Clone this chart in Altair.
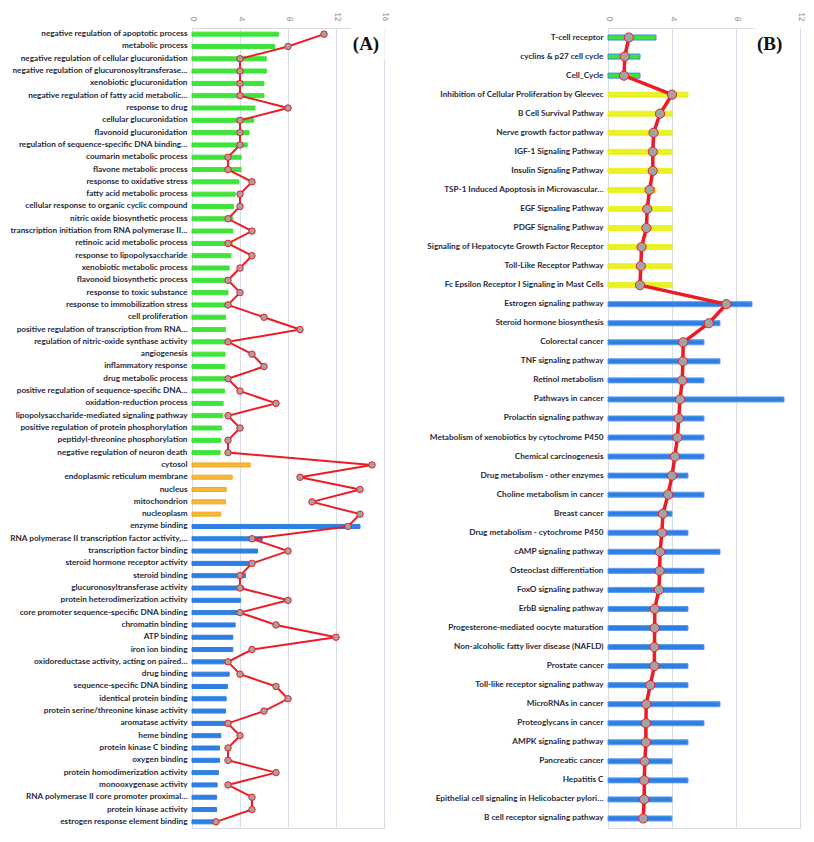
import altair as alt
import pandas as pd

# ---------------- Panel A data ----------------
a_terms = [
    "negative regulation of apoptotic process", "metabolic process",
    "negative regulation of cellular glucuronidation", "negative regulation of glucuronosyltransferase…",
    "xenobiotic glucuronidation", "negative regulation of fatty acid metabolic…",
    "response to drug", "cellular glucuronidation", "flavonoid glucuronidation",
    "regulation of sequence-specific DNA binding…", "coumarin metabolic process",
    "flavone metabolic process", "response to oxidative stress", "fatty acid metabolic process",
    "cellular response to organic cyclic compound", "nitric oxide biosynthetic process",
    "transcription initiation from RNA polymerase II…", "retinoic acid metabolic process",
    "response to lipopolysaccharide", "xenobiotic metabolic process", "flavonoid biosynthetic process",
    "response to toxic substance", "response to immobilization stress", "cell proliferation",
    "positive regulation of transcription from RNA…", "regulation of nitric-oxide synthase activity",
    "angiogenesis", "inflammatory response", "drug metabolic process",
    "positive regulation of sequence-specific DNA…", "oxidation-reduction process",
    "lipopolysaccharide-mediated signaling pathway", "positive regulation of protein phosphorylation",
    "peptidyl-threonine phosphorylation", "negative regulation of neuron death",
    "cytosol", "endoplasmic reticulum membrane", "nucleus", "mitochondrion", "nucleoplasm",
    "enzyme binding", "RNA polymerase II transcription factor activity,…", "transcription factor binding",
    "steroid hormone receptor activity", "steroid binding", "glucuronosyltransferase activity",
    "protein heterodimerization activity", "core promoter sequence-specific DNA binding",
    "chromatin binding", "ATP binding", "iron ion binding", "oxidoreductase activity, acting on paired…",
    "drug binding", "sequence-specific DNA binding", "identical protein binding",
    "protein serine/threonine kinase activity", "aromatase activity", "heme binding",
    "protein kinase C binding", "oxygen binding", "protein homodimerization activity",
    "monooxygenase activity", "RNA polymerase II core promoter proximal…", "protein kinase activity",
    "estrogen response element binding",
]
a_bar = [7.2, 6.9, 6.2, 6.2, 6.0, 6.0, 5.25, 5.15, 4.75, 4.6, 4.1, 4.1, 3.9, 3.6, 3.45, 3.4,
         3.4, 3.35, 3.25, 3.1, 3.05, 3.0, 2.9, 2.8, 2.8, 2.75, 2.75, 2.75, 2.75, 2.7, 2.6, 2.55,
         2.45, 2.4, 2.35,
         4.85, 3.35, 2.85, 2.8, 2.4,
         14.0, 5.85, 5.45, 5.1, 4.45, 4.3, 4.05, 3.95, 3.6, 3.4, 3.4, 3.15, 3.1, 2.95, 2.85,
         2.8, 2.75, 2.4, 2.3, 2.3, 2.2, 2.1, 2.05, 2.05, 2.0]
a_line = [11, 8, 4, 4, 4, 4, 8, 4, 4, 4, 3, 3, 5, 4, 4, 3, 5, 3, 5, 4, 3, 4, 3, 6, 9, 3, 5, 6,
          3, 4, 7, 3, 4, 3, 3,
          15, 9, 14, 10, 14,
          13, 5, 8, 5, 4, 4, 8, 4, 7, 12, 5, 3, 4, 7, 8, 6, 3, 4, 3, 3, 7, 3, 5, 5, 2]
a_group = ["Biological process"] * 35 + ["Cellular component"] * 5 + ["Molecular function"] * 25

# ---------------- Panel B data ----------------
b_terms = [
    "T-cell receptor", "cyclins & p27 cell cycle", "Cell_Cycle",
    "Inhibition of Cellular Proliferation by Gleevec", "B Cell Survival Pathway",
    "Nerve growth factor pathway", "IGF-1 Signaling Pathway", "Insulin Signaling Pathway",
    "TSP-1 Induced Apoptosis in Microvascular…", "EGF Signaling Pathway", "PDGF Signaling Pathway",
    "Signaling of Hepatocyte Growth Factor Receptor", "Toll-Like Receptor Pathway",
    "Fc Epsilon Receptor I Signaling in Mast Cells", "Estrogen signaling pathway",
    "Steroid hormone biosynthesis", "Colorectal cancer", "TNF signaling pathway",
    "Retinol metabolism", "Pathways in cancer", "Prolactin signaling pathway",
    "Metabolism of xenobiotics by cytochrome P450", "Chemical carcinogenesis",
    "Drug metabolism - other enzymes", "Choline metabolism in cancer", "Breast cancer",
    "Drug metabolism - cytochrome P450", "cAMP signaling pathway", "Osteoclast differentiation",
    "FoxO signaling pathway", "ErbB signaling pathway", "Progesterone-mediated oocyte maturation",
    "Non-alcoholic fatty liver disease (NAFLD)", "Prostate cancer",
    "Toll-like receptor signaling pathway", "MicroRNAs in cancer", "Proteoglycans in cancer",
    "AMPK signaling pathway", "Pancreatic cancer", "Hepatitis C",
    "Epithelial cell signaling in Helicobacter pylori…", "B cell receptor signaling pathway",
]
b_bar = [3, 2, 2, 5, 4, 4, 4, 4, 3, 4, 4, 4, 4, 4,
         9, 7, 6, 7, 6, 11, 6, 6, 6, 5, 6, 4, 5, 7, 6, 6, 5, 5, 6, 5, 5, 7, 6, 5, 4, 5, 4, 4]
b_line = [1.3, 1.05, 1.0, 4.0, 3.25, 2.85, 2.8, 2.8, 2.6, 2.45, 2.4, 2.1, 2.05, 2.0,
          7.4, 6.3, 4.7, 4.68, 4.64, 4.5, 4.42, 4.34, 4.18, 4.0, 3.76, 3.43, 3.37, 3.25,
          3.23, 3.18, 2.92, 2.92, 2.9, 2.9, 2.64, 2.39, 2.37, 2.37, 2.3, 2.27, 2.26, 2.2]
b_group = ["Cell cycle"] * 3 + ["BioCarta"] * 11 + ["KEGG"] * 28

dfa = pd.DataFrame({"term": a_terms, "bar": a_bar, "line": a_line, "grp": a_group,
                    "idx": list(range(len(a_terms)))})
dfb = pd.DataFrame({"term": b_terms, "bar": b_bar, "line": b_line, "grp": b_group,
                    "idx": list(range(len(b_terms)))})

LABEL_FONT = "Lato"
RED = "#ec1c24"
GRID = "#d5dde8"
H = 800


def panel(df, xmax, width, bar_size, fill_dom, fill_rng, stroke_rng, line_w, pt_size, tag,
          tag_x, box_x1, box_x2):
    y = alt.Y("term:N", sort=list(df["term"]), title=None,
              scale=alt.Scale(paddingInner=0, paddingOuter=0),
              axis=alt.Axis(labelFont=LABEL_FONT, labelFontWeight="bold", labelFontSize=8.2,
                            labelColor="#1f2b3a", labelPadding=5, ticks=False, domain=False,
                            grid=False, labelLimit=400))
    xscale = alt.Scale(domain=[0, xmax], nice=False, zero=True)
    xaxis = alt.Axis(orient="top", title=None, values=list(range(0, xmax + 1, 2)),
                     labelAngle=90, labelFont=LABEL_FONT, labelFontSize=8,
                     labelColor="#8a8a8a", ticks=False, domain=False, grid=True,
                     gridColor=GRID, gridWidth=1, labelPadding=7, labelOverlap=False)
    base = alt.Chart(df)
    bars = base.mark_bar(size=bar_size, strokeWidth=1).encode(
        x=alt.X("bar:Q", scale=xscale, axis=xaxis),
        y=y,
        fill=alt.Fill("grp:N", scale=alt.Scale(domain=fill_dom, range=fill_rng), legend=None),
        stroke=alt.Stroke("grp:N", scale=alt.Scale(domain=fill_dom, range=stroke_rng), legend=None),
    )
    box = alt.Chart(pd.DataFrame({"a": [box_x1], "b": [box_x2]})).mark_rect(color="white").encode(
        x=alt.X("a:Q", scale=xscale), x2="b:Q", y=alt.value(0), y2=alt.value(32))
    line = base.mark_line(color=RED, strokeWidth=line_w).encode(
        x=alt.X("line:Q", scale=xscale), y=y, order="idx:Q")
    pts = base.mark_circle(color="#a3a3a3", opacity=1, stroke=RED, strokeWidth=1,
                           size=pt_size).encode(
        x=alt.X("line:Q", scale=xscale), y=y)
    label = alt.Chart(pd.DataFrame({"t": [tag], "x": [tag_x]})).mark_text(
        font="Liberation Serif", fontWeight="bold", fontSize=19, color="#111111",
        align="center", baseline="middle").encode(
        x=alt.X("x:Q", scale=xscale), y=alt.value(16), text="t:N")
    return alt.layer(bars, box, line, pts, label).properties(width=width, height=H)


chart_a = panel(dfa, 16, 192, 4,
                ["Biological process", "Cellular component", "Molecular function"],
                ["#3fe43a", "#f6b83a", "#2f7fe3"],
                ["#3fe43a", "#f3a51c", "#2f7fe3"],
                2, 42, "(A)", 14.5, 13.2, 16.05)
chart_b = panel(dfb, 12, 192, 5,
                ["Cell cycle", "BioCarta", "KEGG"],
                ["#42e03c", "#e8f224", "#2f7fe3"],
                ["#3a8ae8", "#e8f224", "#5a9ef0"],
                3.5, 85, "(B)", 10.1, 9.2, 12.0)

chart = alt.hconcat(chart_a, chart_b, spacing=224, bounds="flush").resolve_scale(
    fill="independent", stroke="independent", x="independent", y="independent"
).properties(
    padding={"left": 0, "top": 3, "right": 0, "bottom": 0}
).configure_view(stroke=None).configure(background="white")

chart.save("out.html", embed_options={"renderer": "svg", "actions": False})
